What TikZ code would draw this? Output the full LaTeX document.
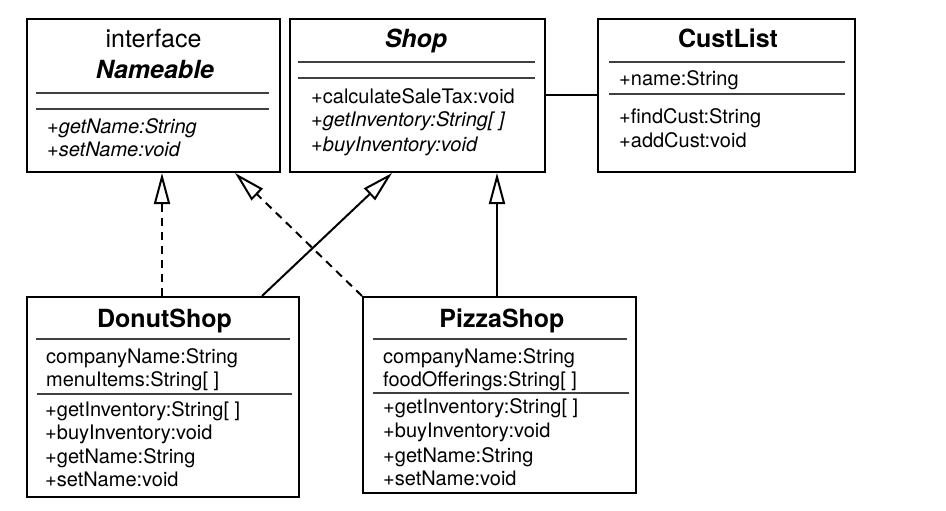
\documentclass[tikz,border=0pt]{standalone}
\usepackage{fontspec}
\setmainfont{TeX Gyre Heros}
\usetikzlibrary{arrows.meta, positioning, calc}

\begin{document}
\begin{tikzpicture}[x=1pt, y=-1pt, >={Triangle[open, length=31pt, width=16pt]},
    classbox/.style={draw, line width=2pt, inner sep=0pt},
    classname/.style={inner sep=0pt, anchor=base, font=\fontsize{25}{30}\selectfont\bfseries},
    member/.style={inner sep=0pt, anchor=base west, font=\fontsize{20}{24}\selectfont},
    divider/.style={line width=1.2pt, black!75},
    realize/.style={->, line width=2pt, dash pattern=on 8pt off 6pt},
    inherit/.style={->, line width=2pt}]
            \useasboundingbox (0,0) rectangle (946,511);

            % class boxes
            \node[classbox, minimum width=253pt, minimum height=153pt] (nameable) at (153.5,95.5) {};
            \node[classbox, minimum width=255pt, minimum height=153pt] (shop) at (417.5,95.5) {};
            \node[classbox, minimum width=257pt, minimum height=153pt] (custlist) at (726.5,95.5) {};
            \node[classbox, minimum width=272pt, minimum height=200pt] (donut) at (163,397) {};
            \node[classbox, minimum width=273pt, minimum height=196pt] (pizza) at (499.5,395) {};

            % Nameable
            \node[classname, font=\fontsize{25}{30}\selectfont] (nameable-kind) at (153.5,48) {interface};
            \node[classname, font=\fontsize{25}{30}\selectfont\bfseries\itshape] (nameable-name) at (155,78) {Nameable};
            \draw[divider] (36,93) -- (269,93);
            \draw[divider] (36,109) -- (269,109);
            \node[member, font=\fontsize{20}{24}\selectfont\itshape] (nameable-m1) at (47,133) {+getName:String};
            \node[member, font=\fontsize{20}{24}\selectfont\itshape] (nameable-m2) at (47,157) {+setName:void};

            % Shop
            \node[classname, font=\fontsize{25}{30}\selectfont\bfseries\itshape] (shop-name) at (416,48) {Shop};
            \draw[divider] (298,62) -- (535,62);
            \draw[divider] (298,78) -- (535,78);
            \node[member] (shop-m1) at (311,103) {+calculateSaleTax:void};
            \node[member, font=\fontsize{20}{24}\selectfont\itshape] (shop-m2) at (311,127) {+getInventory:String[ ]};
            \node[member, font=\fontsize{20}{24}\selectfont\itshape] (shop-m3) at (311,151) {+buyInventory:void};

            % CustList
            \node[classname] (custlist-name) at (728,48) {CustList};
            \draw[divider] (609,62) -- (845,62);
            \draw[divider] (609,94) -- (845,94);
            \node[member] (custlist-a1) at (619,85) {+name:String};
            \node[member] (custlist-m1) at (619,124) {+findCust:String};
            \node[member] (custlist-m2) at (619,147) {+addCust:void};

            % DonutShop
            \node[classname] (donut-name) at (164.5,327) {DonutShop};
            \draw[divider] (36,339) -- (290,339);
            \draw[divider] (37,394) -- (292,394);
            \node[member] (donut-a1) at (46,363) {companyName:String};
            \node[member] (donut-a2) at (46,386) {menuItems:String[ ]};
            \node[member] (donut-m1) at (45,416) {+getInventory:String[ ]};
            \node[member] (donut-m2) at (45,439) {+buyInventory:void};
            \node[member] (donut-m3) at (45,463) {+getName:String};
            \node[member] (donut-m4) at (45,486) {+setName:void};

            % PizzaShop
            \node[classname] (pizza-name) at (502,327) {PizzaShop};
            \draw[divider] (373,339) -- (627,339);
            \draw[divider] (373,393) -- (629,393);
            \node[member] (pizza-a1) at (383,363) {companyName:String};
            \node[member] (pizza-a2) at (383,386) {foodOfferings:String[ ]};
            \node[member] (pizza-m1) at (383,413) {+getInventory:String[ ]};
            \node[member] (pizza-m2) at (383,437) {+buyInventory:void};
            \node[member] (pizza-m3) at (383,462) {+getName:String};
            \node[member] (pizza-m4) at (383,485) {+setName:void};

            % relations
            \draw[line width=2pt] (shop) -- (custlist);
            \draw[realize] ([xshift=136pt]donut.north west) -- ([xshift=136pt]nameable.south west);
            \draw[realize] (pizza.north west) -- ([xshift=209pt]nameable.south west);
            \draw[inherit] ([xshift=236pt]donut.north west) -- ([xshift=103pt]shop.south west);
            \draw[inherit] ([xshift=135pt]pizza.north west) -- ([xshift=208pt]shop.south west);
        \end{tikzpicture}
\end{document}
